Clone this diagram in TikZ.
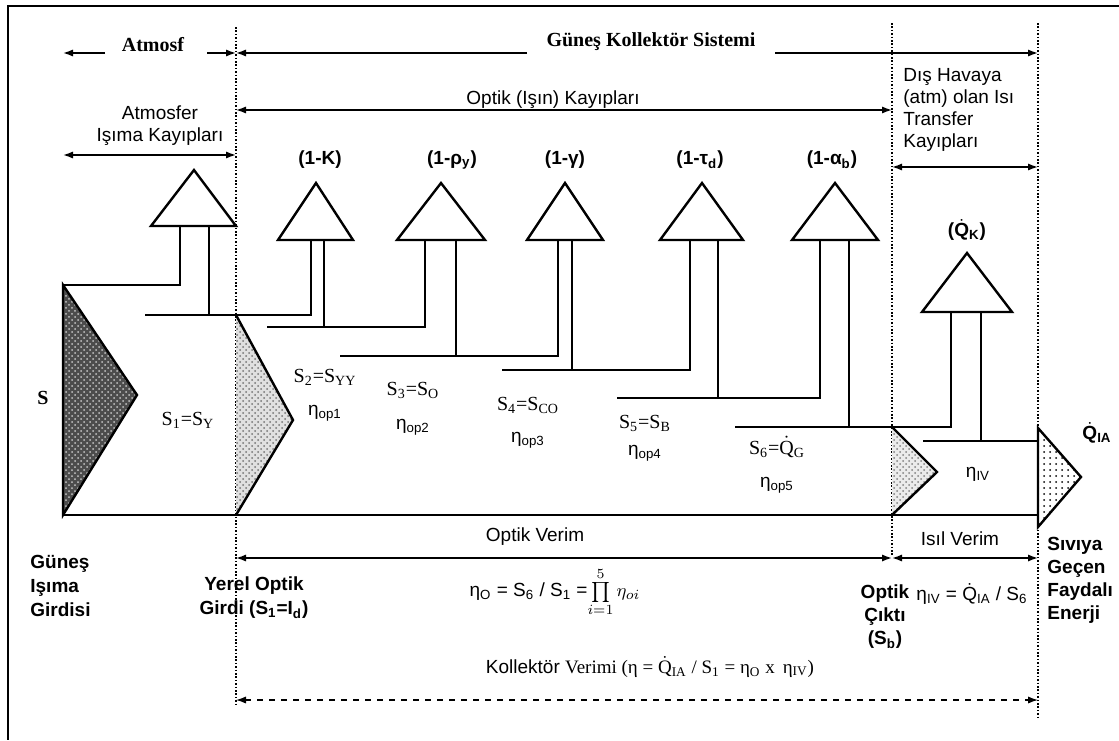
\documentclass[tikz,border=0pt]{standalone}
\usepackage{fontspec}
\setmainfont{Liberation Serif}
\setsansfont{Liberation Sans}
\usetikzlibrary{arrows.meta, patterns, positioning}
\newcommand{\Qdot}{$\dot{\mbox{Q}}$}
\tikzset{
  >=Latex,  % varsayilan ok ucu
  % boru ve konik kayip oklari
  pipe/.style={line width=1.2pt,line join=miter},
  cone/.style={line width=1.2pt,fill=white,line join=miter},
  border/.style={dash pattern=on 0.8pt off 0.9pt,line width=0.9pt},
  % yazilar
  lbl/.style={font=\sffamily\fontsize{9.5}{11}\selectfont,inner sep=0pt,align=center},
  lblb/.style={font=\sffamily\bfseries\fontsize{9.5}{11.5}\selectfont,inner sep=0pt,align=center},
  serif/.style={font=\rmfamily\fontsize{10}{12}\selectfont,inner sep=0pt},
  title/.style={font=\rmfamily\bfseries\fontsize{10}{12}\selectfont,inner sep=0pt}
}

\begin{document}
\begin{tikzpicture}[x=0.5pt,y=-0.5pt,
    arr/.style={-{Latex[length=5pt,width=3.6pt]},line width=0.8pt},
    darr/.style={{Latex[length=5pt,width=3.6pt]}-{Latex[length=5pt,width=3.6pt]},line width=0.8pt}]
  \useasboundingbox (0,0) rectangle (1119,740);
  \draw[line width=1pt] (1119,6) -- (8,6) -- (8,740);
  % bolge sinirlari
  \coordinate (V1t) at (236,27);  \coordinate (V1b) at (236,704);
  \coordinate (V2t) at (892,23);  \coordinate (V2b) at (892,556);
  \coordinate (V3t) at (1038,23); \coordinate (V3b) at (1038,717);
  \draw[border] (V1t) -- (V1b);
  \draw[border] (V2t) -- (V2b);
  \draw[border] (V3t) -- (V3b);
  % ust basliklar
  \node[title] (atm) at (153,45) {Atmosf};
  \draw[arr] (105,53) -- (63,53);
  \draw[arr] (207,53) -- (V1t |- 0,53);
  \node[title] (gks) at (651,42) {Güneş Kollektör Sistemi};
  \draw[arr] (527,53) -- (V1t |- 0,53);
  \draw[arr] (775,53) -- (V3t |- 0,53);
  \node[lbl] (optk) at (553,100) {Optik (Işın) Kayıpları};
  \draw[darr] (V1t |- 0,110) -- (V2t |- 0,110);
  \node[lbl] (atmk) at (160,126) {Atmosfer\\Işıma Kayıpları};
  \draw[darr] (63,155) -- (V1t |- 0,155);
  \node[lbl,align=left,anchor=west] (dis) at (903,110) {Dış Havaya\\(atm) olan Isı\\Transfer\\Kayıpları};
  \draw[darr] (V2t |- 0,167) -- (V3t |- 0,167);
  % kayip koni basliklari
  \node[lblb] (k)   at (320,160) {(1-K)};
  \node[lblb] (rho) at (452,160) {(1-ρ\textsubscript{y})};
  \node[lblb] (gam) at (565,160) {(1-γ)};
  \node[lblb] (tau) at (700,160) {(1-τ\textsubscript{d})};
  \node[lblb] (alf) at (832,160) {(1-α\textsubscript{b})};
  \node[lblb] (qk)  at (967,230) {(\Qdot\textsubscript{K})};
  % koniler
  \foreach \xa/\ya/\xl/\xr/\yb in {194/170/151/236/226, 316/183/278/353/240,
      441/183/397/485/240, 565/183/527/603/240, 702/183/660/743/240,
      835/183/792/878/240, 967/253/922/1012/312}
    \draw[cone] (\xa,\ya) -- (\xr,\yb) -- (\xl,\yb) -- cycle;
  % borular
  \draw[pipe] (63,285) -- (180,285) -- (180,226);
  \foreach \h/\xs/\xl/\yl/\xr/\yr in {315/145/311/240/209/226, 327/267/425/240/324/240,
      356/340/558/240/456/240, 370/502/690/240/572/240, 398/617/820/240/718/240,
      427/735/951/312/849/240}
    \draw[pipe] (\xs,\h) -- (\xl,\h) -- (\xl,\yl) (\xr,\yr) -- (\xr,\h);
  \draw[pipe] (923,441) -- (1038,441) (981,312) -- (981,441);
  \draw[pipe] (63,515) -- (1038,515);
  % akis ucgenleri
  \fill[black!70] (63,285) -- (137,395) -- (63,515) -- cycle;
  \fill[pattern=crosshatch dots,pattern color=white!55!gray] (63,285) -- (137,395) -- (63,515) -- cycle;
  \draw[pipe] (63,285) -- (137,395) -- (63,515) -- cycle;
  \fill[black!12] (236,315) -- (293,420) -- (236,515) -- cycle;
  \fill[pattern=crosshatch dots,pattern color=black!55] (236,315) -- (293,420) -- (236,515) -- cycle;
  \draw[pipe] (236,315) -- (293,420) -- (236,515);
  \fill[black!8] (892,427) -- (937,472) -- (892,515) -- cycle;
  \fill[pattern=crosshatch dots,pattern color=black!50] (892,427) -- (937,472) -- (892,515) -- cycle;
  \draw[pipe] (892,427) -- (937,472) -- (892,515);
  \fill[white] (1038,428) -- (1081,477) -- (1038,527) -- cycle;
  \fill[pattern=dots] (1038,428) -- (1081,477) -- (1038,527) -- cycle;
  \draw[cone,fill=none] (1038,428) -- (1081,477) -- (1038,527) -- cycle;
  % akis etiketleri
  \node[title] (s) at (43,398) {S};
  \node[serif] (s1) at (188,420) {S\textsubscript{1}=S\textsubscript{Y}};
  \node[serif] (s2) at (325,377) {S\textsubscript{2}=S\textsubscript{YY}};
  \node[lbl]   (e1) at (325,413) {η\textsubscript{op1}};
  \node[serif] (s3) at (413,390) {S\textsubscript{3}=S\textsubscript{O}};
  \node[lbl]   (e2) at (413,427) {η\textsubscript{op2}};
  \node[serif] (s4) at (528,405) {S\textsubscript{4}=S\textsubscript{CO}};
  \node[lbl]   (e3) at (528,440) {η\textsubscript{op3}};
  \node[serif] (s5) at (645,423) {S\textsubscript{5}=S\textsubscript{B}};
  \node[lbl]   (e4) at (645,453) {η\textsubscript{op4}};
  \node[serif] (s6) at (777,447) {S\textsubscript{6}=\Qdot\textsubscript{G}};
  \node[lbl]   (e5) at (777,485) {η\textsubscript{op5}};
  \node[lbl]   (eiv) at (978,474) {η\textsubscript{IV}};
  \node[lblb]  (qia) at (1097,433) {\Qdot\textsubscript{IA}};
  % alt kisim
  \node[lbl] (ov) at (535,537) {Optik Verim};
  \draw[darr] (V1t |- 0,558) -- (V2t |- 0,558);
  \node[lbl] (iv) at (960,539) {Isıl Verim};
  \draw[darr] (V2t |- 0,558) -- (V3t |- 0,558);
  \node[lblb,align=left,anchor=west,font=\sffamily\bfseries\fontsize{9.5}{12}\selectfont] (gig) at (30,586) {Güneş\\Işıma\\Girdisi};
  \node[lblb,font=\sffamily\bfseries\fontsize{9.5}{12}\selectfont] (yog) at (254,598) {Yerel Optik\\Girdi (S\textsubscript{1}=I\textsubscript{d})};
  \node[lbl] (eo) at (555,592) {η\textsubscript{O} = S\textsubscript{6} / S\textsubscript{1} =$\prod\limits_{i=1}^{5}\eta_{oi}$};
  \node[lblb] (oc) at (885,617) {Optik\\Çıktı\\(S\textsubscript{b})};
  \node[lbl] (eivf) at (972,594) {η\textsubscript{IV} = \Qdot\textsubscript{IA} / S\textsubscript{6}};
  \node[lblb,align=left,anchor=west] (sgf) at (1047,580) {Sıvıya\\Geçen\\Faydalı\\Enerji};
  \node[lbl] (kv) at (650,667) {Kollektör {\rmfamily Verimi (η = \Qdot\textsubscript{IA} / S\textsubscript{1} = η\textsubscript{O} x\, η\textsubscript{IV})}};
  \draw[darr,dashed,line width=0.6pt] (V1t |- 0,700) -- (V3t |- 0,700);
\end{tikzpicture}
\end{document}
